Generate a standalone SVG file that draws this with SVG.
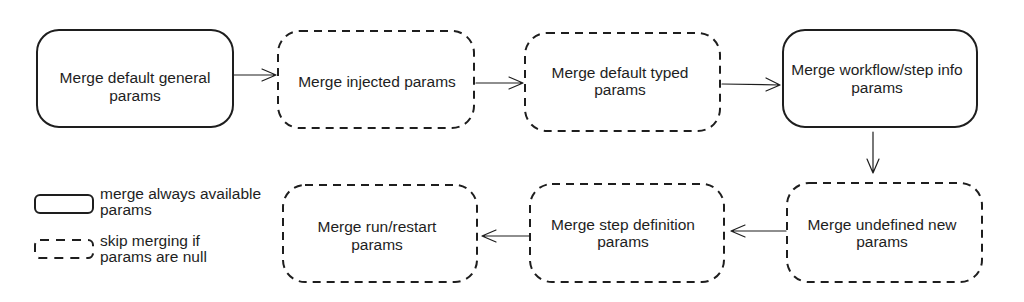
<svg xmlns="http://www.w3.org/2000/svg" width="1024" height="302" viewBox="0 0 1024 302">
<style>
.box{fill:#ffffff;stroke:#1e1e1e;stroke-width:2}
.dash{stroke-dasharray:8 6}
.t{font-family:"Liberation Sans",Arial,sans-serif;font-size:15.5px;fill:#1e1e1e;text-anchor:middle}
.lt{font-family:"Liberation Sans",Arial,sans-serif;font-size:15.5px;fill:#1e1e1e}
.c{fill:none;stroke:#1e1e1e;stroke-width:1.2;stroke-linecap:round;stroke-linejoin:round}
</style>
<rect width="1024" height="302" fill="#ffffff"/>
<g id="connectors">
<path class="c" d="M234 75 L276 75 M262 69 L276 75 L262 81"/>
<path class="c" d="M476 83 L523 83 M509 77 L523 83 L509 89"/>
<path class="c" d="M722 84 L780 85 M766 78 L780 85 L766 91"/>
<path class="c" d="M873 132 L873 173 M867 159 L873 173 L879 159"/>
<path class="c" d="M786 231 L731 231 M745 225 L731 231 L745 237"/>
<path class="c" d="M529 236 L482 236 M496 230 L482 236 L496 242"/>
</g>
<g id="n1">
<rect class="box" x="37" y="30" width="196" height="97" rx="22"/>
<text class="t" x="135" y="83">Merge default general</text>
<text class="t" x="135" y="101">params</text>
</g>
<g id="n2">
<rect class="box dash" x="278" y="31" width="196" height="97" rx="22"/>
<text class="t" x="377" y="87">Merge injected params</text>
</g>
<g id="n3">
<rect class="box dash" x="525" y="33" width="195" height="98" rx="22"/>
<text class="t" x="620" y="78">Merge default typed</text>
<text class="t" x="620" y="95">params</text>
</g>
<g id="n4">
<rect class="box" x="783" y="30" width="194" height="97" rx="22"/>
<text class="t" x="877" y="75">Merge workflow/step info</text>
<text class="t" x="877" y="93">params</text>
</g>
<g id="n5">
<rect class="box dash" x="787" y="183" width="195" height="99" rx="22"/>
<text class="t" x="882" y="230">Merge undefined new</text>
<text class="t" x="882" y="247">params</text>
</g>
<g id="n6">
<rect class="box dash" x="530" y="184" width="194" height="98" rx="22"/>
<text class="t" x="623" y="230">Merge step definition</text>
<text class="t" x="623" y="247">params</text>
</g>
<g id="n7">
<rect class="box dash" x="283" y="185" width="194" height="97" rx="22"/>
<text class="t" x="377" y="232">Merge run/restart</text>
<text class="t" x="377" y="250">params</text>
</g>
<g id="legend">
<rect class="box" x="35" y="195" width="58" height="18" rx="5"/>
<text class="lt" x="100" y="199">merge always available</text>
<text class="lt" x="100" y="215">params</text>
<rect class="box" x="35" y="240" width="58" height="18" rx="5" stroke-dasharray="9 7"/>
<text class="lt" x="100" y="246">skip merging if</text>
<text class="lt" x="100" y="262">params are null</text>
</g>
</svg>
